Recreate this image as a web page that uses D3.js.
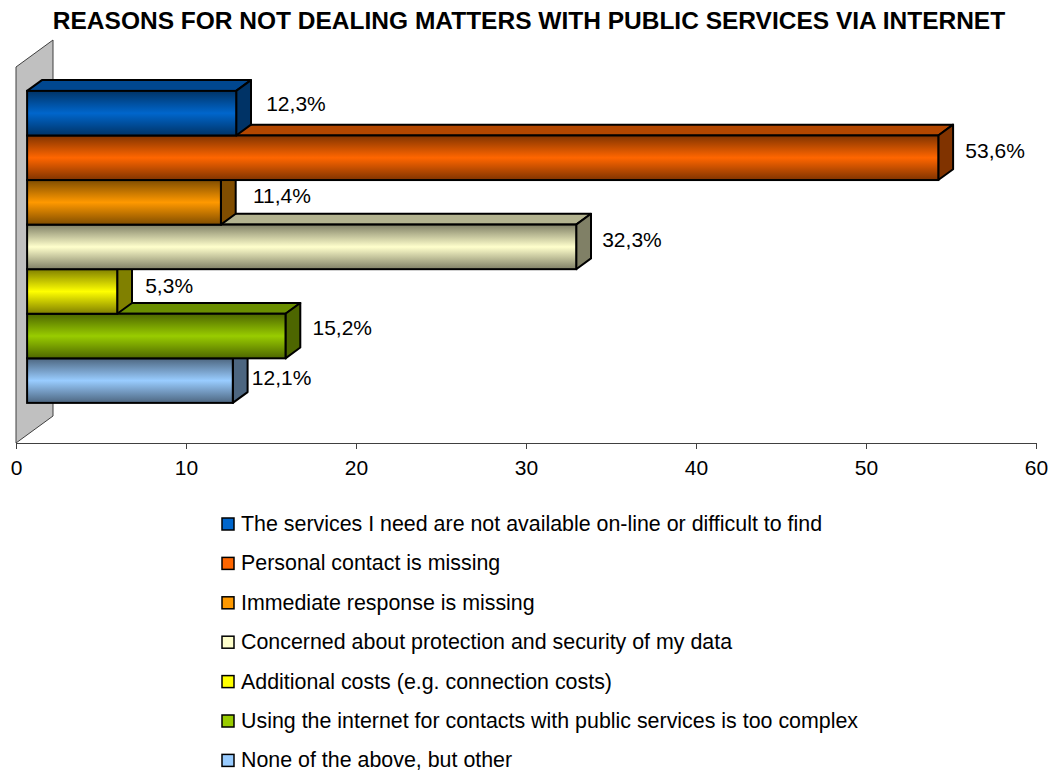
<!DOCTYPE html>
<html>
<head>
<meta charset="utf-8">
<script src="https://cdn.jsdelivr.net/npm/d3@7/dist/d3.min.js"></script>
<style>
  html, body { margin: 0; padding: 0; background: #fff; }
  svg { display: block; font-family: "Liberation Sans", Arial, sans-serif; }
</style>
</head>
<body>
<svg id="chart" width="1058" height="772"></svg>
<script>
// Survey answers: reasons for not dealing matters with public services via internet (%)
const reasons = [
  "The services I need are not available on-line or difficult to find",
  "Personal contact is missing",
  "Immediate response is missing",
  "Concerned about protection and security of my data",
  "Additional costs (e.g. connection costs)",
  "Using the internet for contacts with public services is too complex",
  "None of the above, but other"
];
const shares = [12.3, 53.6, 11.4, 32.3, 5.3, 15.2, 12.1];
const colors = ["#0066CC", "#FF6600", "#FF9900", "#FFFFCC", "#FFFF00", "#99CC00", "#99CCFF"];
const axisTicks = [0, 10, 20, 30, 40, 50, 60];
const title = "REASONS FOR NOT DEALING MATTERS WITH PUBLIC SERVICES VIA INTERNET";

const svg = d3.select("#chart");
const FONT = 21;

// Plot frame (front plane) and 3-D depth offset
const plot = { left: 16, right: 1036, top: 67, bottom: 443 };
const depth = { dx: 37, dy: -27 };
const barNear = 0.3, barFar = 0.7;   // bars sit in the middle of the depth

const x = d3.scaleLinear().domain([0, 60]).range([plot.left, plot.right]);
const y = d3.scaleBand().domain(d3.range(reasons.length))
  .range([plot.top, plot.bottom]).paddingInner(0).paddingOuter(0.718);

const shade = (c, k) => d3.interpolateRgb(c, "#000")(k);

// Gradients for the front faces (dark edges, bright centre)
const defs = svg.append("defs");
colors.forEach((c, i) => {
  const g = defs.append("linearGradient").attr("id", "g" + i)
    .attr("x1", 0).attr("y1", 0).attr("x2", 0).attr("y2", 1);
  g.append("stop").attr("offset", "0%").attr("stop-color", shade(c, 0.5));
  g.append("stop").attr("offset", "50%").attr("stop-color", c);
  g.append("stop").attr("offset", "100%").attr("stop-color", shade(c, 0.5));
});

// Title
svg.append("text")
  .attr("x", 529).attr("y", 29)
  .attr("text-anchor", "middle")
  .attr("font-size", 24.5).attr("font-weight", "bold")
  .text(title);

// Back wall
const wall = [
  [plot.left, plot.top],
  [plot.left + depth.dx, plot.top + depth.dy],
  [plot.left + depth.dx, plot.bottom + depth.dy],
  [plot.left, plot.bottom]
];
svg.append("path")
  .attr("d", d3.line()(wall) + "Z")
  .attr("fill", "#C0C0C0").attr("stroke", "#404040").attr("stroke-width", 1);

// Value axis
const axis = svg.append("g")
  .attr("transform", `translate(0,${plot.bottom})`)
  .call(d3.axisBottom(x).tickValues(axisTicks).tickSize(6).tickSizeOuter(0).tickFormat(d3.format("d")));
axis.select(".domain").attr("stroke", "#404040");
axis.selectAll(".tick line").attr("stroke", "#404040");
axis.selectAll(".tick text")
  .attr("y", 32).attr("dy", 0)
  .attr("font-size", FONT).attr("font-family", "Liberation Sans, Arial, sans-serif")
  .attr("fill", "#000");

// Bars, drawn from bottom to top so that each upper bar hides the top face below it
const nx = depth.dx * barNear, ny = depth.dy * barNear;
const fx = depth.dx * (barFar - barNear), fy = depth.dy * (barFar - barNear);
const labelDx = [30, 27, 32, 26, 28, 27, 19];
const labelDy = [-10, -7.5, -6.5, -7.4, -6, -8.5, -3];

const bars = svg.append("g");
d3.range(reasons.length).reverse().forEach(i => {
  const x0 = x(0) + nx, x1 = x(shares[i]) + nx;
  const y0 = y(i) + ny, y1 = y(i) + y.bandwidth() + ny;
  const g = bars.append("g");
  // top face
  g.append("path")
    .attr("d", d3.line()([[x0, y0], [x0 + fx, y0 + fy], [x1 + fx, y0 + fy], [x1, y0]]) + "Z")
    .attr("fill", shade(colors[i], 0.3)).attr("stroke", "#000").attr("stroke-width", 2)
    .attr("stroke-linejoin", "round");
  // side face
  g.append("path")
    .attr("d", d3.line()([[x1, y0], [x1 + fx, y0 + fy], [x1 + fx, y1 + fy], [x1, y1]]) + "Z")
    .attr("fill", shade(colors[i], 0.5)).attr("stroke", "#000").attr("stroke-width", 2)
    .attr("stroke-linejoin", "round");
  // front face
  g.append("rect")
    .attr("x", x0).attr("y", y0).attr("width", x1 - x0).attr("height", y1 - y0)
    .attr("fill", `url(#g${i})`).attr("stroke", "#000").attr("stroke-width", 2);
});

// Value labels
svg.append("g").selectAll("text")
  .data(shares)
  .join("text")
  .attr("x", (d, i) => x(d) + nx + labelDx[i])
  .attr("y", (d, i) => y(i) + y.bandwidth() / 2 + ny + labelDy[i])
  .attr("dominant-baseline", "central")
  .attr("font-size", FONT)
  .text(d => d3.format(".1f")(d).replace(".", ",") + "%");

// Legend
const legend = svg.append("g").selectAll("g")
  .data(reasons)
  .join("g")
  .attr("transform", (d, i) => `translate(222,${524 + i * 39.4})`);
legend.append("rect")
  .attr("x", 0).attr("y", -6).attr("width", 12).attr("height", 12)
  .attr("fill", (d, i) => colors[i]).attr("stroke", "#000").attr("stroke-width", 1.5);
legend.append("text")
  .attr("x", 19).attr("y", 0)
  .attr("dominant-baseline", "central")
  .attr("font-size", 21.4)
  .text(d => d);
</script>
</body>
</html>
